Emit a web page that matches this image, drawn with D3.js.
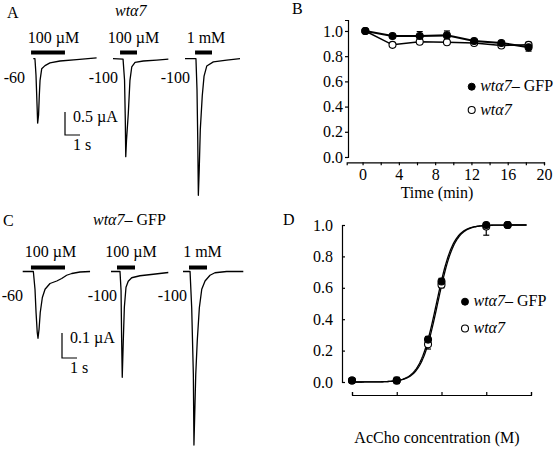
<!DOCTYPE html>
<html><head><meta charset="utf-8">
<script src="https://cdn.jsdelivr.net/npm/d3@7"></script>
<style>
html,body{margin:0;padding:0;background:#fff;}
svg text{font-family:"Liberation Serif","Times New Roman",serif;fill:#000;font-size:16px;}
</style></head><body>
<svg id="fig" width="560" height="453"></svg>
<script>
// ---------------- DATA ----------------
// Panels A / C : current traces [time (s), current (µA)]
const holdingA = ["-60", "-100", "-100"];
const agonistA = ["100 µM", "100 µM", "1 mM"];
const applicationA = [[-0.15, 2.11], [0.47, 1.6], [0.67, 1.8]];
const traceA1 = [[0,0],[0.11,0],[0.18,-0.36],[0.25,-1.01],[0.29,-1.40],[0.35,-1.23],[0.40,-0.80],[0.45,-0.47],[0.56,-0.22],[0.78,-0.15],[1.11,-0.09],[1.78,-0.05],[2.89,-0.02],[4.22,0.02]];
const traceA2 = [[0,0],[0.67,-0.01],[0.77,-0.47],[0.82,-1.34],[0.85,-2.13],[0.90,-1.77],[1.02,-1.19],[1.13,-0.47],[1.25,-0.18],[1.47,-0.08],[2.02,-0.05],[2.91,-0.03],[3.69,-0.01]];
const traceA3 = [[0,0],[0.73,0],[0.80,-0.67],[0.85,-1.76],[0.89,-2.97],[0.95,-2.40],[1.02,-1.54],[1.15,-0.81],[1.27,-0.38],[1.45,-0.16],[1.89,-0.07],[2.78,-0.03],[3.67,0]];

const holdingC = ["-60", "-100", "-100"];
const agonistC = ["100 µM", "100 µM", "1 mM"];
const applicationC = [[0.55, 2.82], [0.40, 1.60], [0.40, 1.60]];
const traceC1 = [[0,0],[0.71,0],[0.82,-0.071],[0.89,-0.164],[0.97,-0.244],[1.02,-0.267],[1.09,-0.231],[1.17,-0.164],[1.31,-0.104],[1.49,-0.071],[1.82,-0.048],[2.27,-0.038],[2.60,-0.028],[2.93,-0.015],[3.27,-0.008],[3.82,-0.002],[4.49,0]];
const traceC2 = [[0,0],[0.60,0],[0.67,-0.076],[0.71,-0.276],[0.75,-0.423],[0.82,-0.276],[0.89,-0.143],[1.00,-0.063],[1.15,-0.039],[1.38,-0.025],[1.93,-0.017],[2.82,-0.011],[3.82,-0.004]];
const traceC3 = [[0,0],[0.47,0],[0.58,-0.145],[0.69,-0.411],[0.73,-0.694],[0.85,-0.411],[0.95,-0.278],[1.09,-0.145],[1.25,-0.071],[1.47,-0.038],[1.80,-0.015],[2.13,-0.005],[2.91,0],[4.02,0]];

// Panel B : run-down over time
const seriesNames = ["wtα7– GFP", "wtα7"];
const timeMin = [0.3, 3.3, 6.3, 9.3, 12.3, 15.3, 18.3];
const gfpB = [1.0, 0.96, 0.96, 0.965, 0.92, 0.905, 0.87];
const gfpBErr = [0, 0.01, 0.035, 0.035, 0.01, 0.01, 0.03];
const wtB = [1.0, 0.89, 0.915, 0.91, 0.905, 0.885, 0.89];
const wtBErr = [0, 0.01, 0.01, 0.01, 0.01, 0.01, 0.02];
const bYTicks = [0, 0.2, 0.4, 0.6, 0.8, 1.0];
const bXTicks = [0, 2, 4, 6, 8, 10, 12, 14, 16, 18, 20];
const bXLabels = [0, 4, 8, 12, 16, 20];

// Panel D : dose-response
const concM = [1e-6, 1e-5, 5e-5, 1e-4, 1e-3, 3e-3];
const gfpD = [0.01, 0.01, 0.27, 0.64, 1.0, 1.0];
const gfpDErrLo = [0, 0.02, 0.02, 0.02, 0.065, 0];
const gfpDErrHi = [0, 0.02, 0.02, 0.02, 0, 0];
const wtD = [0.01, 0.01, 0.24, 0.62, 0.99, 1.0];
const wtDErr = [0, 0.01, 0.03, 0.02, 0, 0];
const fitEC50 = [7.7e-5, 8.2e-5];   // Hill fit: GFP, wt
const fitNH = [2.3, 2.3];
const dYTicks = [0, 0.2, 0.4, 0.6, 0.8, 1.0];
const dXTicks = [1e-6, 1e-5, 1e-4, 1e-3, 1e-2];

// ---------------- DRAW ----------------
const svg = d3.select("#fig");

function italicLabel(sel, name) {
  const parts = name.split("–");
  sel.append("tspan").attr("font-style", "italic").text(parts[0]);
  if (parts.length > 1) sel.append("tspan").text("–" + parts[1]);
}

// ---- trace panels ----
function tracePanel(cfg) {
  const tS = d3.scaleLinear().domain([0, 1]).range([0, 15]);
  const iS = d3.scaleLinear().domain([0, -cfg.scaleI]).range([0, cfg.scalePx]);
  const line = d3.line().x(d => tS(d[0])).y(d => iS(d[1]));
  cfg.traces.forEach((tr, k) => {
    const g = svg.append("g").attr("transform", `translate(${cfg.x0[k]},${cfg.base})`);
    g.append("path").datum(tr).attr("d", line)
      .attr("fill", "none").attr("stroke", "#000").attr("stroke-width", 1.3)
      .attr("stroke-linejoin", "round");
    const ap = cfg.app[k];
    g.append("rect").attr("x", tS(ap[0])).attr("width", tS(ap[1]) - tS(ap[0]))
      .attr("y", cfg.barOff - 2).attr("height", 4).attr("fill", "#000");
    svg.append("text").attr("x", cfg.labX[k]).attr("y", cfg.labY)
      .attr("text-anchor", "middle").text(cfg.agonist[k]);
    svg.append("text").attr("x", cfg.holdX[k]).attr("y", cfg.holdY)
      .attr("text-anchor", "end").text(cfg.holding[k]);
  });
  // scale bar
  const sb = svg.append("g").attr("transform", `translate(${cfg.sbX},${cfg.sbY})`);
  sb.append("path")
    .attr("d", `M0,${-iS(-cfg.scaleI)}V0H${tS(1)}`)
    .attr("fill", "none").attr("stroke", "#000").attr("stroke-width", 1.2);
  svg.append("text").attr("x", cfg.sbX + 8).attr("y", cfg.sbY - cfg.scalePx + 10).text(cfg.scaleLabel);
  svg.append("text").attr("x", cfg.sbX + 8).attr("y", cfg.sbY + 15).text("1 s");
}

tracePanel({
  traces: [traceA1, traceA2, traceA3], x0: [33.3, 113, 185], base: 58.7,
  app: applicationA, barOff: -6.2, agonist: agonistA, holding: holdingA,
  labX: [53.5, 133.5, 206], labY: 43, holdX: [25, 118, 190], holdY: 83,
  scaleI: 0.5, scalePx: 23, sbX: 65, sbY: 135, scaleLabel: "0.5 µA"
});
tracePanel({
  traces: [traceC1, traceC2, traceC3], x0: [22.7, 111, 183], base: 271.5,
  app: applicationC, barOff: -4, agonist: agonistC, holding: holdingC,
  labX: [50.5, 131, 202.5], labY: 257, holdX: [23, 117, 187], holdY: 301,
  scaleI: 0.1, scalePx: 25, sbX: 62, sbY: 358, scaleLabel: "0.1 µA"
});

// Panel letters & titles
svg.append("text").attr("x", 7).attr("y", 18).text("A");
svg.append("text").attr("x", 115).attr("y", 16).call(italicLabel, seriesNames[1]);
svg.append("text").attr("x", 292).attr("y", 14).text("B");
svg.append("text").attr("x", 3).attr("y", 226).text("C");
svg.append("text").attr("x", 93).attr("y", 225).call(italicLabel, seriesNames[0]);
svg.append("text").attr("x", 283).attr("y", 225).text("D");

// ---- Panel B ----
const xB = d3.scaleLinear().domain([-1.75, 20]).range([346.7, 544]);
const yB = d3.scaleLinear().domain([0, 1.087]).range([157, 20]);
const axBx = svg.append("g").attr("transform", "translate(0,162.3)")
  .call(d3.axisBottom(xB).tickValues(bXTicks).tickSize(3).tickPadding(3)
    .tickFormat(d => bXLabels.includes(d) ? d : ""));
const axBy = svg.append("g").attr("transform", "translate(348,0)")
  .call(d3.axisLeft(yB).tickValues(bYTicks).tickSize(3).tickPadding(2).tickFormat(d3.format(".1f")));
[axBx, axBy].forEach(a => {
  a.selectAll("text").attr("font-size", 16).attr("font-family", null);
  a.selectAll("path,line").attr("stroke", "#000").attr("stroke-width", 1.2);
});
svg.append("text").attr("x", 437).attr("y", 198).attr("text-anchor", "middle").text("Time (min)");

function drawSeries(xs, ys, yScale, xScale, vals, errLo, errHi, filled, sw) {
  const pts = xs.map((x, i) => [x, vals[i], errLo[i], errHi[i]]);
  const g = svg.append("g");
  g.append("path").datum(pts)
    .attr("d", d3.line().x(d => xScale(d[0])).y(d => yScale(d[1])))
    .attr("fill", "none").attr("stroke", "#000").attr("stroke-width", sw);
  return g;
}
function errBars(xScale, yScale, xs, vals, lo, hi) {
  const g = svg.append("g").attr("stroke", "#000").attr("stroke-width", 1.2);
  xs.forEach((x, i) => {
    const cx = xScale(x);
    if (lo[i] > 0) {
      g.append("line").attr("x1", cx).attr("x2", cx).attr("y1", yScale(vals[i])).attr("y2", yScale(vals[i] - lo[i]));
      g.append("line").attr("x1", cx - 3).attr("x2", cx + 3).attr("y1", yScale(vals[i] - lo[i])).attr("y2", yScale(vals[i] - lo[i]));
    }
    if (hi[i] > 0) {
      g.append("line").attr("x1", cx).attr("x2", cx).attr("y1", yScale(vals[i])).attr("y2", yScale(vals[i] + hi[i]));
      g.append("line").attr("x1", cx - 3).attr("x2", cx + 3).attr("y1", yScale(vals[i] + hi[i])).attr("y2", yScale(vals[i] + hi[i]));
    }
  });
}
function markers(xScale, yScale, xs, vals, filled) {
  svg.append("g").selectAll("circle").data(xs).join("circle")
    .attr("cx", d => xScale(d)).attr("cy", (d, i) => yScale(vals[i])).attr("r", 3.5)
    .attr("fill", filled ? "#000" : "#fff").attr("stroke", "#000").attr("stroke-width", 1.1);
}

errBars(xB, yB, timeMin, wtB, wtBErr, wtBErr);
errBars(xB, yB, timeMin, gfpB, gfpBErr, gfpBErr);
drawSeries(timeMin, null, yB, xB, wtB, wtBErr, wtBErr, false, 1.5);
drawSeries(timeMin, null, yB, xB, gfpB, gfpBErr, gfpBErr, true, 2);
markers(xB, yB, timeMin, wtB, false);
markers(xB, yB, timeMin, gfpB, true);

// legend B
function legend(x, y1, y2) {
  svg.append("circle").attr("cx", x).attr("cy", y1).attr("r", 3.5).attr("fill", "#000").attr("stroke", "#000");
  svg.append("text").attr("x", x + 8.5).attr("y", y1 + 4.5).call(italicLabel, seriesNames[0]);
  svg.append("circle").attr("cx", x).attr("cy", y2).attr("r", 3.5).attr("fill", "#fff").attr("stroke", "#000").attr("stroke-width", 1.1);
  svg.append("text").attr("x", x + 8.5).attr("y", y2 + 4.5).call(italicLabel, seriesNames[1]);
}
legend(471.7, 86.7, 110);

// ---- Panel D ----
const xD = d3.scaleLog().domain([1e-6, 1e-2]).range([352, 531]);
const yD = d3.scaleLinear().domain([0, 1]).range([382, 225]);
const axDx = svg.append("g").attr("transform", "translate(0,395)")
  .call(d3.axisBottom(xD).tickValues(dXTicks).tickSize(-3).tickFormat(""));
const axDy = svg.append("g").attr("transform", "translate(342,0)")
  .call(d3.axisLeft(yD).tickValues(dYTicks).tickSize(-3).tickPadding(9).tickFormat(d3.format(".1f")));
[axDx, axDy].forEach(a => {
  a.selectAll("text").attr("font-size", 16).attr("font-family", null);
  a.selectAll("path,line").attr("stroke", "#000").attr("stroke-width", 1.2);
});
svg.append("text").attr("x", 437).attr("y", 443).attr("text-anchor", "middle").text("AcCho concentration (M)");

// Hill fit curves
const logC = d3.range(-6, -2.09, 0.02);
fitEC50.forEach((ec, k) => {
  const pts = logC.map(l => { const c = Math.pow(10, l); return [c, 1 / (1 + Math.pow(ec / c, fitNH[k]))]; });
  svg.append("path").datum(pts)
    .attr("d", d3.line().x(d => xD(d[0])).y(d => yD(d[1])))
    .attr("fill", "none").attr("stroke", "#000").attr("stroke-width", 1.3);
});
errBars(xD, yD, concM, wtD, wtDErr, wtDErr);
errBars(xD, yD, concM, gfpD, gfpDErrLo, gfpDErrHi);
markers(xD, yD, concM, wtD, false);
markers(xD, yD, concM, gfpD, true);
legend(465, 301.7, 328.5);
</script>
</body></html>
